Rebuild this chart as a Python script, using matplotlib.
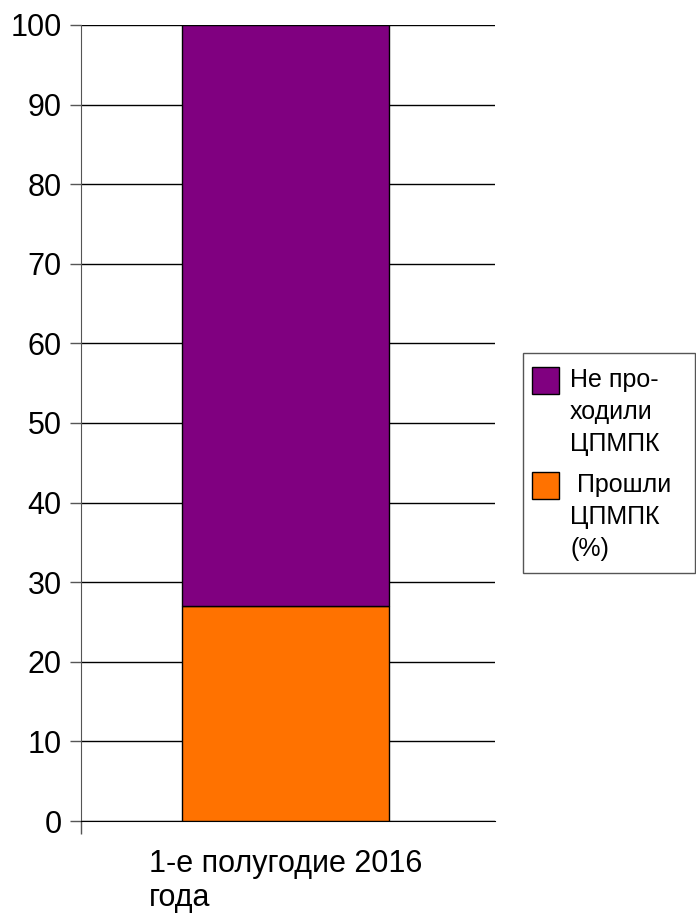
import matplotlib.pyplot as plt
from matplotlib.patches import Rectangle

plt.rcParams['font.family'] = ['Liberation Sans', 'DejaVu Sans']

categories = ['1-е полугодие 2016\nгода']
passed = [27]
not_passed = [73]
series_names = ['Не про-\nходили\nЦПМПК', ' Прошли\nЦПМПК\n(%)']
colors = ['#800080', '#ff7200']

W, H = 696, 913
fig = plt.figure(figsize=(W / 100, H / 100), dpi=100)
ax = fig.add_axes([81 / W, 92 / H, 414 / W, 796 / H])

x = list(range(len(categories)))
ax.bar(x, passed, width=0.5, color=colors[1], edgecolor='black', linewidth=1, zorder=3)
ax.bar(x, not_passed, width=0.5, bottom=passed, color=colors[0],
       edgecolor='black', linewidth=1, zorder=3)

ax.set_xlim(-0.495, 0.505)
ax.set_ylim(0, 100)
ax.set_yticks(range(0, 101, 10))
ax.yaxis.grid(True, color='black', linewidth=1, zorder=0)
ax.tick_params(axis='y', labelsize=22, length=8, width=1, pad=6, color='#555555')

ax.set_xticks(x)
ax.set_xticklabels(categories, fontsize=22, multialignment='left')
ax.set_xticks([-0.495], minor=True)
ax.tick_params(axis='x', which='major', length=0, pad=20)
ax.tick_params(axis='x', which='minor', length=9, width=1, color='#555555')

for s in ['top', 'right']:
    ax.spines[s].set_visible(False)
ax.spines['left'].set_color('#555555')
ax.spines['bottom'].set_color('black')

# legend drawn by hand: swatch sits at the first line of each label
def px(xp, yp):
    return xp / W, 1 - yp / H

fig.add_artist(Rectangle(px(523, 573), 172 / W, 220 / H, transform=fig.transFigure,
                         facecolor='white', edgecolor='#555555', linewidth=1))
tops = [367, 472]
for name, c, top in zip(series_names, colors, tops):
    fig.add_artist(Rectangle(px(532, top + 27), 27 / W, 27 / H, transform=fig.transFigure,
                             facecolor=c, edgecolor='black', linewidth=1))
    for i, line in enumerate(name.split('\n')):
        fig.text(*px(570, top + 20 + 32 * i), line, fontsize=18, va='baseline', ha='left')

fig.savefig('out.png', dpi=100)
